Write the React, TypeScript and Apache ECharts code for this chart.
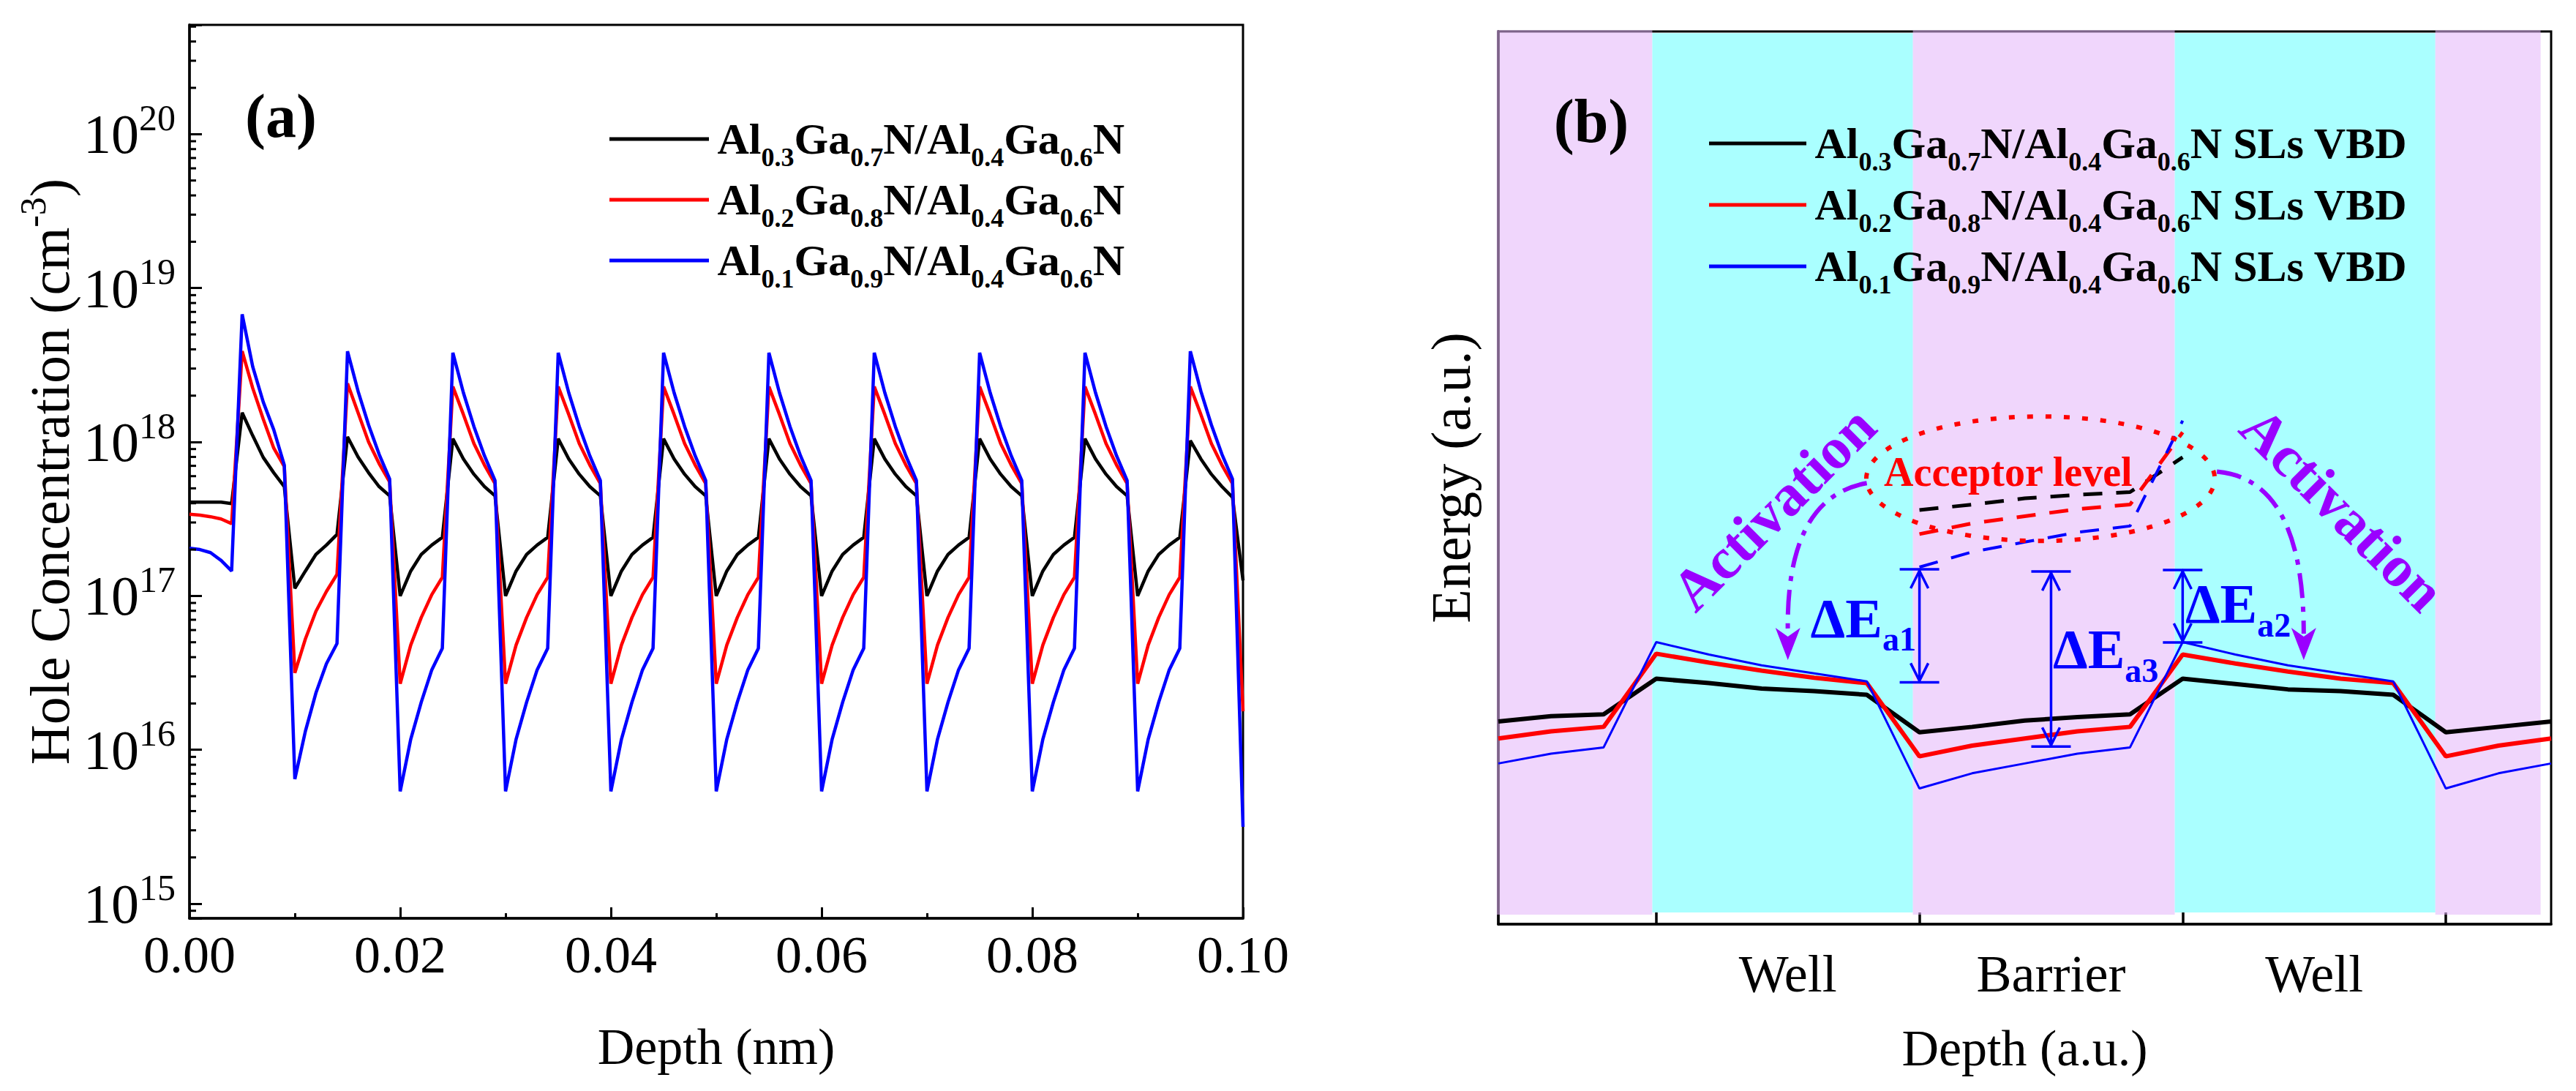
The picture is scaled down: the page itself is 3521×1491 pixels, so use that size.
import React, { useEffect, useRef } from 'react';
import * as echarts from 'echarts';

const SERIF = '"Liberation Serif", "Times New Roman", serif';
const PURPLE = '#9a00ff';

// ---------------- Panel (a): hole concentration vs depth ----------------
const depthNm = [
  0, 0.001, 0.002, 0.003, 0.004, 0.005, 0.006, 0.007, 0.008, 0.009,
  0.01, 0.011, 0.012, 0.013, 0.014, 0.015, 0.016, 0.017, 0.018, 0.019,
  0.02, 0.021, 0.022, 0.023, 0.024, 0.025, 0.026, 0.027, 0.028, 0.029,
  0.03, 0.031, 0.032, 0.033, 0.034, 0.035, 0.036, 0.037, 0.038, 0.039,
  0.04, 0.041, 0.042, 0.043, 0.044, 0.045, 0.046, 0.047, 0.048, 0.049,
  0.05, 0.051, 0.052, 0.053, 0.054, 0.055, 0.056, 0.057, 0.058, 0.059,
  0.06, 0.061, 0.062, 0.063, 0.064, 0.065, 0.066, 0.067, 0.068, 0.069,
  0.07, 0.071, 0.072, 0.073, 0.074, 0.075, 0.076, 0.077, 0.078, 0.079,
  0.08, 0.081, 0.082, 0.083, 0.084, 0.085, 0.086, 0.087, 0.088, 0.089,
  0.09, 0.091, 0.092, 0.093, 0.094, 0.095, 0.096, 0.097, 0.098, 0.099,
  0.1,
];

const holeAl03 = [
  4.07e17, 4.07e17, 4.07e17, 4.07e17, 3.98e17, 1.55e18, 1.1e18, 7.94e17, 6.31e17, 5.13e17,
  1.12e17, 1.45e17, 1.86e17, 2.14e17, 2.51e17, 1.08e18, 8.0e17, 6.31e17, 5.13e17, 4.47e17,
  1.0e17, 1.45e17, 1.86e17, 2.14e17, 2.4e17, 1.05e18, 7.76e17, 6.17e17, 5.13e17, 4.47e17,
  1.0e17, 1.45e17, 1.86e17, 2.14e17, 2.4e17, 1.05e18, 7.76e17, 6.17e17, 5.13e17, 4.47e17,
  1.0e17, 1.45e17, 1.86e17, 2.14e17, 2.4e17, 1.05e18, 7.76e17, 6.17e17, 5.13e17, 4.47e17,
  1.0e17, 1.45e17, 1.86e17, 2.14e17, 2.4e17, 1.05e18, 7.76e17, 6.17e17, 5.13e17, 4.47e17,
  1.0e17, 1.45e17, 1.86e17, 2.14e17, 2.4e17, 1.05e18, 7.76e17, 6.17e17, 5.13e17, 4.47e17,
  1.0e17, 1.45e17, 1.86e17, 2.14e17, 2.4e17, 1.05e18, 7.76e17, 6.17e17, 5.13e17, 4.47e17,
  1.0e17, 1.45e17, 1.86e17, 2.14e17, 2.4e17, 1.05e18, 7.76e17, 6.17e17, 5.13e17, 4.47e17,
  1.0e17, 1.45e17, 1.86e17, 2.14e17, 2.4e17, 1.02e18, 7.76e17, 6.17e17, 5.13e17, 4.37e17,
  1.26e17,
];

const holeAl02 = [
  3.39e17, 3.35e17, 3.27e17, 3.16e17, 2.95e17, 3.89e18, 2.24e18, 1.41e18, 9.12e17, 6.92e17,
  3.16e16, 5.25e16, 7.94e16, 1.07e17, 1.38e17, 2.4e18, 1.55e18, 1.0e18, 7.24e17, 5.5e17,
  2.69e16, 4.79e16, 7.24e16, 1.02e17, 1.32e17, 2.29e18, 1.51e18, 9.77e17, 7.08e17, 5.37e17,
  2.69e16, 4.79e16, 7.24e16, 1.02e17, 1.32e17, 2.29e18, 1.51e18, 9.77e17, 7.08e17, 5.37e17,
  2.69e16, 4.79e16, 7.24e16, 1.02e17, 1.32e17, 2.29e18, 1.51e18, 9.77e17, 7.08e17, 5.37e17,
  2.69e16, 4.79e16, 7.24e16, 1.02e17, 1.32e17, 2.29e18, 1.51e18, 9.77e17, 7.08e17, 5.37e17,
  2.69e16, 4.79e16, 7.24e16, 1.02e17, 1.32e17, 2.29e18, 1.51e18, 9.77e17, 7.08e17, 5.37e17,
  2.69e16, 4.79e16, 7.24e16, 1.02e17, 1.32e17, 2.29e18, 1.51e18, 9.77e17, 7.08e17, 5.37e17,
  2.69e16, 4.79e16, 7.24e16, 1.02e17, 1.32e17, 2.29e18, 1.51e18, 9.77e17, 7.08e17, 5.37e17,
  2.69e16, 4.79e16, 7.24e16, 1.02e17, 1.32e17, 2.29e18, 1.51e18, 9.77e17, 7.08e17, 5.37e17,
  1.78e16,
];

const holeAl01 = [
  2.04e17, 2.0e17, 1.91e17, 1.7e17, 1.45e17, 6.76e18, 3.09e18, 1.82e18, 1.2e18, 7.08e17,
  6.46e15, 1.32e16, 2.34e16, 3.63e16, 4.9e16, 3.89e18, 2.14e18, 1.29e18, 8.32e17, 5.75e17,
  5.37e15, 1.17e16, 2.04e16, 3.31e16, 4.57e16, 3.8e18, 2.09e18, 1.26e18, 8.13e17, 5.62e17,
  5.37e15, 1.17e16, 2.04e16, 3.31e16, 4.57e16, 3.8e18, 2.09e18, 1.26e18, 8.13e17, 5.62e17,
  5.37e15, 1.17e16, 2.04e16, 3.31e16, 4.57e16, 3.8e18, 2.09e18, 1.26e18, 8.13e17, 5.62e17,
  5.37e15, 1.17e16, 2.04e16, 3.31e16, 4.57e16, 3.8e18, 2.09e18, 1.26e18, 8.13e17, 5.62e17,
  5.37e15, 1.17e16, 2.04e16, 3.31e16, 4.57e16, 3.8e18, 2.09e18, 1.26e18, 8.13e17, 5.62e17,
  5.37e15, 1.17e16, 2.04e16, 3.31e16, 4.57e16, 3.8e18, 2.09e18, 1.26e18, 8.13e17, 5.62e17,
  5.37e15, 1.17e16, 2.04e16, 3.31e16, 4.57e16, 3.8e18, 2.09e18, 1.26e18, 8.13e17, 5.62e17,
  5.37e15, 1.17e16, 2.04e16, 3.31e16, 4.57e16, 3.89e18, 2.14e18, 1.29e18, 8.32e17, 5.75e17,
  3.16e15,
];

const namesA = ['Al0.3Ga0.7N/Al0.4Ga0.6N', 'Al0.2Ga0.8N/Al0.4Ga0.6N', 'Al0.1Ga0.9N/Al0.4Ga0.6N'];
const colors = ['#000000', '#ff0000', '#0000ff'];
const concMin = 8.04e14;
const concMax = 5.13e20;
const minorMantissas = [2, 3, 4, 5, 6, 7, 8, 9];
const minorDecades = [1e14, 1e15, 1e16, 1e17, 1e18, 1e19, 1e20];

// ---------------- Panel (b): valence band diagram ----------------
const bandDepth = [0.4, 0.6, 0.8, 1.0, 1.2, 1.4, 1.6, 1.8, 2.0, 2.2, 2.4, 2.6, 2.8, 3.0, 3.2, 3.4, 3.6, 3.8, 4.0, 4.2, 4.4];
const vbdAl03 = [22.7, 23.3, 23.5, 27.5, 27.0, 26.4, 26.1, 25.7, 21.5, 22.1, 22.8, 23.2, 23.5, 27.5, 26.9, 26.3, 26.1, 25.7, 21.5, 22.1, 22.7];
const vbdAl02 = [20.8, 21.6, 22.1, 30.3, 29.3, 28.4, 27.6, 27.0, 18.8, 20.0, 20.8, 21.6, 22.1, 30.2, 29.2, 28.3, 27.5, 27.0, 18.8, 20.0, 20.8];
const vbdAl01 = [18.0, 19.1, 19.8, 31.6, 30.2, 29.0, 28.1, 27.2, 15.2, 16.9, 18.0, 19.1, 19.8, 31.6, 30.2, 29.0, 28.1, 27.2, 15.2, 16.9, 18.0];
const namesB = ['Al0.3Ga0.7N/Al0.4Ga0.6N SLs VBD', 'Al0.2Ga0.8N/Al0.4Ga0.6N SLs VBD', 'Al0.1Ga0.9N/Al0.4Ga0.6N SLs VBD'];
const bandWidths = [6, 6, 3];

const acceptorDepth = [2.0, 2.2, 2.4, 2.6, 2.8, 3.0];
const acceptorAl03 = [46.4, 47.0, 47.7, 48.1, 48.4, 52.3];
const acceptorAl02 = [43.7, 44.9, 45.7, 46.5, 47.0, 55.1];
const acceptorAl01 = [40.0, 41.7, 42.8, 43.9, 44.6, 56.4];

const layerStart = [0.394, 0.985, 1.975, 2.97, 3.96];
const layerEnd = [0.985, 1.975, 2.97, 3.96, 4.36];
const layerKind = ['barrier', 'well', 'barrier', 'well', 'barrier'];
const layerTicks = [1, 2, 3, 4];
const regionLabelPos = [1.5, 2.5, 3.5];
const regionLabels = ['Well', 'Barrier', 'Well'];

const acceptorEllipse = { cx: 2.46, cy: 49.9, rx: 0.662, ry: 6.97 };
const activationArrows = [
  { from: [1.8, 49.4], ctrl: [1.49, 47.8], tip: [1.5, 29.6] },
  { from: [3.13, 50.7], ctrl: [3.46, 49.8], tip: [3.46, 29.6] },
];
const activationLabels = [
  { x: 1.445, y: 46.6, rot: 45 },
  { x: 3.608, y: 46.5, rot: -45 },
];
const deltaE = [
  { sub: 'a1', x: 2.0, top: 39.75, bottom: 27.1, tx: 1.987, ty: 34.3, align: 'right' },
  { sub: 'a3', x: 2.5, top: 39.5, bottom: 19.9, tx: 2.507, ty: 30.8, align: 'left' },
  { sub: 'a2', x: 3.0, top: 39.67, bottom: 31.56, tx: 3.01, ty: 35.9, align: 'left' },
];
const acceptorLabel = { x: 2.337, y: 50.66, text: 'Acceptor level' };

// ---------------- helpers ----------------
const subRich = (name: string) =>
  '{g| }' +
  name
    .split(/(\d\.\d)/)
    .map((t, i) => (i % 2 ? `{s|${t}}` : t ? `{m|${t}}` : ''))
    .join('');

const legendRich = {
  g: { fontSize: 26, fontFamily: SERIF, lineHeight: 86 },
  m: { fontFamily: SERIF, fontWeight: 'bold', fontSize: 60, lineHeight: 86, verticalAlign: 'middle', color: '#000' },
  s: { fontFamily: SERIF, fontWeight: 'bold', fontSize: 36, lineHeight: 86, verticalAlign: 'bottom', color: '#000' },
};

function buildOption() {
  const minorTicks: number[][] = [];
  minorDecades.forEach((d) =>
    minorMantissas.forEach((m) => {
      const v = m * d;
      if (v > concMin && v < concMax) minorTicks.push([0, v]);
    })
  );

  const seriesA = [holeAl03, holeAl02, holeAl01].map((arr, i) => ({
    type: 'line',
    name: namesA[i],
    xAxisIndex: 0,
    yAxisIndex: 0,
    data: depthNm.map((d, j) => [d, arr[j]]),
    symbol: 'none',
    showSymbol: false,
    lineStyle: { color: colors[i], width: 4.5 },
    itemStyle: { color: colors[i] },
    z: 3,
  }));

  const seriesB = [vbdAl03, vbdAl02, vbdAl01].map((arr, i) => ({
    type: 'line',
    name: namesB[i],
    xAxisIndex: 1,
    yAxisIndex: 1,
    data: bandDepth.map((d, j) => [d, arr[j]]),
    symbol: 'none',
    showSymbol: false,
    lineStyle: { color: colors[i], width: bandWidths[i] },
    itemStyle: { color: colors[i] },
    z: 3,
  }));

  const seriesAcc = [acceptorAl03, acceptorAl02, acceptorAl01].map((arr, i) => ({
    type: 'line',
    name: 'acceptor-' + i,
    xAxisIndex: 1,
    yAxisIndex: 1,
    data: acceptorDepth.map((d, j) => [d, arr[j]]),
    symbol: 'none',
    showSymbol: false,
    lineStyle: { color: colors[i], width: i === 2 ? 4 : 5, type: [26, 19] },
    z: 3,
  }));

  const minorTickSeries = {
    type: 'custom',
    xAxisIndex: 0,
    yAxisIndex: 0,
    silent: true,
    z: 4,
    data: minorTicks,
    renderItem: (_p: any, api: any) => {
      const p = api.coord([0, api.value(1)]);
      return {
        type: 'line',
        shape: { x1: p[0], y1: p[1], x2: p[0] + 9, y2: p[1] },
        style: { stroke: '#000', lineWidth: 3 },
      };
    },
  };

  const layerSeries = {
    type: 'custom',
    xAxisIndex: 1,
    yAxisIndex: 1,
    silent: true,
    z: 1,
    data: layerStart.map((s, i) => [s, layerEnd[i], i]),
    renderItem: (_p: any, api: any) => {
      const i = api.value(2);
      const well = layerKind[i] === 'well';
      const a = api.coord([api.value(0), well ? 99.82 : 100.15]);
      const b = api.coord([api.value(1), well ? 1.31 : 1.07]);
      return {
        type: 'rect',
        shape: { x: a[0], y: a[1], width: b[0] - a[0], height: b[1] - a[1] },
        style: { fill: well ? '#aaffff' : 'rgba(228,180,250,0.55)' },
      };
    },
  };

  const annotationSeries = {
    type: 'custom',
    xAxisIndex: 1,
    yAxisIndex: 1,
    silent: true,
    z: 5,
    data: [[2.5, 50]],
    renderItem: (_p: any, api: any) => {
      const P = (x: number, y: number) => api.coord([x, y]);
      const kids: any[] = [];
      const ec = P(acceptorEllipse.cx, acceptorEllipse.cy);
      const er = api.size([acceptorEllipse.rx, acceptorEllipse.ry]);
      kids.push({
        type: 'ellipse',
        shape: { cx: ec[0], cy: ec[1], rx: er[0], ry: er[1] },
        style: { fill: 'none', stroke: '#ff0000', lineWidth: 6, lineDash: [8, 17] },
      });
      activationArrows.forEach((a) => {
        const s = P(a.from[0], a.from[1]);
        const c = P(a.ctrl[0], a.ctrl[1]);
        const t = P(a.tip[0], a.tip[1]);
        const headLen = 44;
        kids.push({
          type: 'bezierCurve',
          shape: { x1: s[0], y1: s[1], cpx1: c[0], cpy1: c[1], x2: t[0], y2: t[1] - headLen + 8 },
          style: { fill: 'none', stroke: PURPLE, lineWidth: 6, lineDash: [34, 12, 7, 12] },
        });
        kids.push({
          type: 'polygon',
          shape: {
            points: [
              [t[0], t[1]],
              [t[0] - 17, t[1] - headLen],
              [t[0], t[1] - headLen + 12],
              [t[0] + 17, t[1] - headLen],
            ],
          },
          style: { fill: PURPLE },
        });
      });
      activationLabels.forEach((l) => {
        const p = P(l.x, l.y);
        kids.push({
          type: 'text',
          x: p[0],
          y: p[1],
          rotation: (l.rot * Math.PI) / 180,
          style: {
            text: 'Activation',
            fill: PURPLE,
            fontFamily: SERIF,
            fontWeight: 'bold',
            fontSize: 80,
            align: 'center',
            verticalAlign: 'middle',
          },
        });
      });
      const lp = P(acceptorLabel.x, acceptorLabel.y);
      kids.push({
        type: 'text',
        x: lp[0],
        y: lp[1],
        style: {
          text: acceptorLabel.text,
          fill: '#ff0000',
          fontFamily: SERIF,
          fontWeight: 'bold',
          fontSize: 56,
          align: 'center',
          verticalAlign: 'middle',
        },
      });
      deltaE.forEach((d) => {
        const t = P(d.x, d.top);
        const b = P(d.x, d.bottom);
        const st = { stroke: '#0000ff', lineWidth: 3.5, fill: 'none' };
        kids.push({ type: 'line', shape: { x1: t[0], y1: t[1], x2: b[0], y2: b[1] }, style: st });
        kids.push({ type: 'line', shape: { x1: t[0] - 27, y1: t[1], x2: t[0] + 27, y2: t[1] }, style: st });
        kids.push({ type: 'line', shape: { x1: b[0] - 27, y1: b[1], x2: b[0] + 27, y2: b[1] }, style: st });
        kids.push({
          type: 'polyline',
          shape: { points: [[t[0] - 12, t[1] + 26], [t[0], t[1] + 2], [t[0] + 12, t[1] + 26]] },
          style: st,
        });
        kids.push({
          type: 'polyline',
          shape: { points: [[b[0] - 12, b[1] - 26], [b[0], b[1] - 2], [b[0] + 12, b[1] - 26]] },
          style: st,
        });
        const q = P(d.tx, d.ty);
        kids.push({
          type: 'text',
          x: q[0],
          y: q[1],
          style: {
            text: `{m|ΔE}{s|${d.sub}}`,
            align: d.align,
            verticalAlign: 'middle',
            rich: {
              m: { fontFamily: SERIF, fontWeight: 'bold', fontSize: 76, lineHeight: 104, verticalAlign: 'middle', fill: '#0000ff', color: '#0000ff' },
              s: { fontFamily: SERIF, fontWeight: 'bold', fontSize: 46, lineHeight: 104, verticalAlign: 'bottom', fill: '#0000ff', color: '#0000ff' },
            },
          },
        });
      });
      return { type: 'group', children: kids };
    },
  };

  const axisLine = { onZero: false, lineStyle: { color: '#000', width: 3.5 } };

  return {
    animation: false,
    backgroundColor: '#ffffff',
    grid: [
      { left: 259, top: 34, width: 1440, height: 1221, show: true, borderColor: '#000', borderWidth: 3 },
      { left: 2048, top: 43, width: 1439, height: 1220, show: true, borderColor: '#000', borderWidth: 3 },
    ],
    xAxis: [
      {
        type: 'value',
        gridIndex: 0,
        min: 0,
        max: 0.1,
        interval: 0.02,
        axisLine,
        axisTick: { inside: true, length: 15, lineStyle: { color: '#000', width: 3 } },
        minorTick: { show: true, splitNumber: 2, length: 7, lineStyle: { color: '#000', width: 3 } },
        splitLine: { show: false },
        minorSplitLine: { show: false },
        axisLabel: {
          margin: 14,
          fontFamily: SERIF,
          fontSize: 72,
          lineHeight: 72,
          color: '#000',
          formatter: (v: number) => v.toFixed(2),
        },
        name: 'Depth (nm)',
        nameLocation: 'middle',
        nameGap: 140,
        nameTextStyle: { fontFamily: SERIF, fontSize: 70, lineHeight: 70, color: '#000' },
      },
      {
        type: 'value',
        gridIndex: 1,
        min: 0.4,
        max: 4.4,
        axisLine,
        axisTick: { inside: true, length: 16, customValues: layerTicks, lineStyle: { color: '#000', width: 3.5 } },
        splitLine: { show: false },
        axisLabel: {
          customValues: regionLabelPos,
          margin: 32,
          fontFamily: SERIF,
          fontSize: 72,
          lineHeight: 72,
          color: '#000',
          formatter: (v: number) => {
            const k = regionLabelPos.findIndex((p) => Math.abs(p - v) < 1e-6);
            return k >= 0 ? regionLabels[k] : '';
          },
        },
        name: 'Depth (a.u.)',
        nameLocation: 'middle',
        nameGap: 134,
        nameTextStyle: { fontFamily: SERIF, fontSize: 70, lineHeight: 70, color: '#000' },
      },
    ],
    yAxis: [
      {
        type: 'log',
        logBase: 10,
        gridIndex: 0,
        min: concMin,
        max: concMax,
        axisLine,
        axisTick: { inside: true, length: 17, lineStyle: { color: '#000', width: 3 } },
        splitLine: { show: false },
        axisLabel: {
          margin: 19,
          formatter: (v: number) => {
            const e = Math.log10(v);
            const r = Math.round(e);
            if (Math.abs(e - r) > 0.01) return '';
            return `{b|10}{s|${r}}`;
          },
          rich: {
            b: { fontFamily: SERIF, fontSize: 76, lineHeight: 95, verticalAlign: 'middle', color: '#000' },
            s: { fontFamily: SERIF, fontSize: 50, lineHeight: 95, verticalAlign: 'top', color: '#000' },
          },
        },
        name: '{n|Hole Concentration (cm}{s|-3}{n|)}',
        nameLocation: 'middle',
        nameGap: 143,
        nameTextStyle: {
          rich: {
            n: { fontFamily: SERIF, fontSize: 76, lineHeight: 96, verticalAlign: 'middle', color: '#000' },
            s: { fontFamily: SERIF, fontSize: 50, lineHeight: 96, verticalAlign: 'top', color: '#000' },
          },
        },
      },
      {
        type: 'value',
        gridIndex: 1,
        min: 0,
        max: 100,
        axisLine,
        axisTick: { show: false },
        axisLabel: { show: false },
        splitLine: { show: false },
        name: 'Energy (a.u.)',
        nameLocation: 'middle',
        nameGap: 27,
        nameTextStyle: { fontFamily: SERIF, fontSize: 76, lineHeight: 76, color: '#000' },
      },
    ],
    legend: [
      {
        orient: 'vertical',
        left: 833,
        top: 160,
        padding: 0,
        icon: 'rect',
        itemWidth: 136,
        itemHeight: 5,
        itemGap: 10,
        selectedMode: false,
        data: namesA,
        formatter: (n: string) => subRich(n),
        textStyle: { fontFamily: SERIF, rich: legendRich },
      },
      {
        orient: 'vertical',
        left: 2336,
        top: 166,
        padding: 0,
        icon: 'rect',
        itemWidth: 133,
        itemHeight: 5,
        itemGap: 11,
        selectedMode: false,
        data: namesB,
        formatter: (n: string) => subRich(n),
        textStyle: { fontFamily: SERIF, rich: legendRich },
      },
    ],
    graphic: [
      {
        type: 'text',
        x: 384,
        y: 158,
        z: 100,
        style: {
          text: '(a)',
          fill: '#000',
          font: `bold 84px ${SERIF}`,
          align: 'center',
          verticalAlign: 'middle',
          textAlign: 'center',
          textVerticalAlign: 'middle',
        },
      },
      {
        type: 'text',
        x: 2175,
        y: 165,
        z: 100,
        style: {
          text: '(b)',
          fill: '#000',
          font: `bold 84px ${SERIF}`,
          align: 'center',
          verticalAlign: 'middle',
          textAlign: 'center',
          textVerticalAlign: 'middle',
        },
      },
    ],
    series: [...seriesA, minorTickSeries, layerSeries, ...seriesB, ...seriesAcc, annotationSeries],
  };
}

export default function App() {
  const ref = useRef<HTMLDivElement>(null);
  useEffect(() => {
    if (!ref.current) return;
    const chart = echarts.init(ref.current, null, { renderer: 'svg', width: 3521, height: 1491 });
    chart.setOption(buildOption() as any);
    return () => chart.dispose();
  }, []);
  return (
    <div
      ref={ref}
      style={{ position: 'fixed', left: 0, top: 0, width: 3521, height: 1491, background: '#fff' }}
    />
  );
}
